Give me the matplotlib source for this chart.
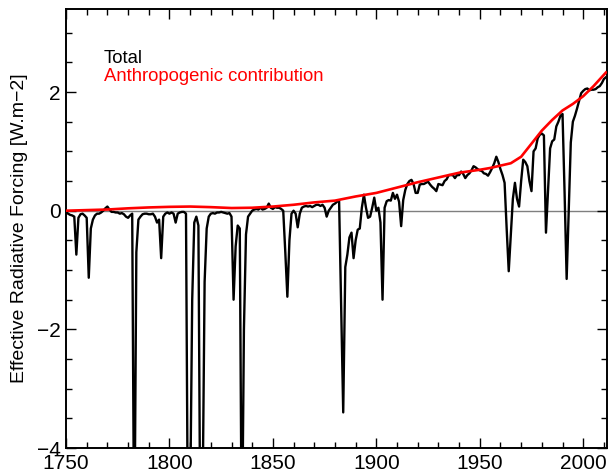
"""Effective radiative forcing 1750-2011: total vs anthropogenic contribution."""
import matplotlib
matplotlib.use("Agg")
import matplotlib.pyplot as plt
from matplotlib.ticker import MultipleLocator

plt.rcParams["font.family"] = ["Liberation Sans", "DejaVu Sans"]

# annual total ERF, one row per decade (1750s ... 2010s)
total_by_decade = [
    [-0.02, -0.05, -0.07, -0.08, -0.10, -0.74, -0.12, -0.06, -0.05, -0.08],
    [-0.12, -1.13, -0.30, -0.15, -0.08, -0.05, -0.05, -0.03, 0.00, 0.04],
    [0.07, 0.02, -0.02, -0.02, -0.03, -0.03, -0.05, -0.04, -0.06, -0.10],
    [-0.12, -0.08, -0.05, -6.0, -0.70, -0.15, -0.10, -0.06, -0.05, -0.05],
    [-0.06, -0.06, -0.05, -0.10, -0.20, -0.15, -0.80, -0.10, -0.05, -0.03],
    [-0.05, -0.03, -0.05, -0.20, -0.05, -0.03, -0.02, -0.02, -0.05, -6.0],
    [-5.0, -1.5, -0.20, -0.10, -0.25, -6.0, -5.0, -1.2, -0.30, -0.10],
    [-0.05, -0.04, -0.05, -0.03, -0.03, -0.02, -0.03, -0.04, -0.05, -0.04],
    [-0.10, -1.50, -0.60, -0.25, -0.30, -6.0, -2.0, -0.40, -0.10, -0.05],
    [0.00, 0.02, 0.03, 0.02, 0.05, 0.02, 0.03, 0.05, 0.12, 0.05],
    [0.03, 0.06, 0.05, 0.05, 0.03, 0.00, -0.70, -1.45, -0.50, -0.05],
    [0.00, -0.05, -0.28, -0.05, 0.05, 0.07, 0.08, 0.07, 0.08, 0.06],
    [0.08, 0.10, 0.10, 0.08, 0.10, 0.05, -0.10, 0.00, 0.05, 0.10],
    [0.12, 0.15, 0.17, -1.60, -3.40, -0.95, -0.74, -0.45, -0.37, -0.80],
    [-0.50, -0.32, -0.30, 0.05, 0.27, 0.05, -0.12, -0.10, 0.05, 0.22],
    [0.00, 0.05, -0.20, -1.50, 0.05, 0.16, 0.18, 0.17, 0.30, 0.20],
    [0.27, 0.15, -0.26, 0.18, 0.35, 0.45, 0.50, 0.52, 0.45, 0.30],
    [0.30, 0.44, 0.45, 0.45, 0.47, 0.49, 0.44, 0.40, 0.37, 0.33],
    [0.45, 0.44, 0.43, 0.50, 0.53, 0.60, 0.60, 0.60, 0.55, 0.60],
    [0.60, 0.66, 0.62, 0.55, 0.60, 0.63, 0.68, 0.75, 0.73, 0.70],
    [0.68, 0.67, 0.63, 0.62, 0.59, 0.65, 0.72, 0.80, 0.91, 0.82],
    [0.70, 0.60, 0.47, -0.30, -1.02, -0.40, 0.20, 0.47, 0.20, 0.07],
    [0.50, 0.86, 0.82, 0.75, 0.50, 0.33, 1.00, 1.05, 1.22, 1.28],
    [1.30, 1.27, -0.37, 0.35, 1.05, 1.17, 1.20, 1.42, 1.50, 1.60],
    [1.63, 0.30, -1.15, 0.00, 1.15, 1.50, 1.60, 1.72, 1.85, 1.98],
    [2.02, 2.05, 2.06, 2.03, 2.04, 2.04, 2.05, 2.08, 2.10, 2.15],
    [2.22, 2.25],
]
total = [v for row in total_by_decade for v in row]
years = list(range(1750, 1750 + len(total)))

anthro_years = [1750, 1760, 1770, 1780, 1790, 1800, 1810, 1820, 1830, 1840,
                1850, 1860, 1870, 1880, 1890, 1900, 1910, 1920, 1930, 1940,
                1950, 1955, 1960, 1965, 1970, 1975, 1980, 1985, 1990, 1995,
                2000, 2005, 2011]
anthro = [0.0, 0.01, 0.02, 0.04, 0.055, 0.065, 0.07, 0.06, 0.045, 0.05,
          0.07, 0.10, 0.14, 0.17, 0.24, 0.30, 0.39, 0.48, 0.56, 0.64,
          0.69, 0.72, 0.76, 0.80, 0.91, 1.13, 1.35, 1.53, 1.69, 1.80,
          1.93, 2.10, 2.33]

fig = plt.figure(figsize=(6.08, 4.72), dpi=100)
ax = fig.add_axes([66 / 608, 24 / 472, 541 / 608, 439 / 472])

ax.axhline(0, color="#7f7f7f", lw=1.0, zorder=1)
ax.plot(years, total, color="black", lw=1.7, zorder=2)
ax.plot(anthro_years, anthro, color="red", lw=1.9, zorder=3)

ax.set_xlim(1750, 2011.5)
ax.set_ylim(-4, 3.4)
ax.xaxis.set_major_locator(MultipleLocator(50))
ax.xaxis.set_minor_locator(MultipleLocator(10))
ax.yaxis.set_major_locator(MultipleLocator(2))
ax.yaxis.set_minor_locator(MultipleLocator(0.5))
ax.tick_params(which="both", direction="in", top=True, right=True,
               width=1.0, labelsize=15, pad=4)
ax.tick_params(which="major", length=7)
ax.tick_params(which="minor", length=4)
for sp in ax.spines.values():
    sp.set_linewidth(1.4)

ax.set_ylabel("Effective Radiative Forcing [W.m\u22122]", fontsize=14, labelpad=6)

ax.text(0.07, 0.877, "Total", transform=ax.transAxes, fontsize=13.3,
        color="black", va="baseline")
ax.text(0.07, 0.836, "Anthropogenic contribution", transform=ax.transAxes,
        fontsize=13.3, color="red", va="baseline")

fig.savefig("out.png", dpi=100)
